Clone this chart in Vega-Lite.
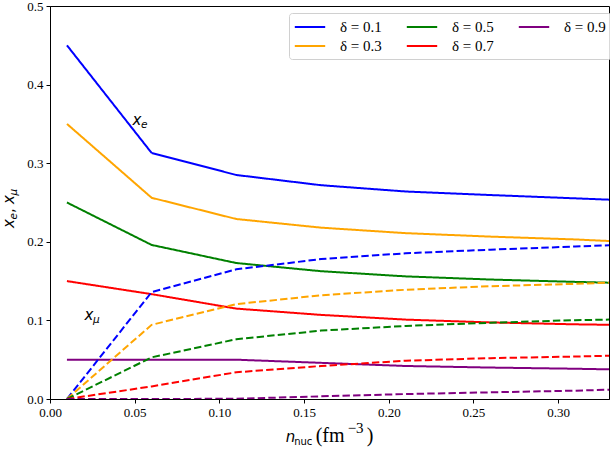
{
  "$schema": "https://vega.github.io/schema/vega-lite/v6.json",
  "width": 559,
  "height": 393,
  "autosize": {"type": "none"},
  "padding": {"left": 50, "top": 6, "right": 1, "bottom": 52},
  "background": "white",
  "config": {
    "view": {"stroke": "black", "strokeWidth": 1},
    "axis": {
      "grid": false,
      "domainColor": "black",
      "tickColor": "black",
      "tickSize": 4,
      "labelFont": "Liberation Serif, Times New Roman, serif",
      "labelFontSize": 13,
      "labelColor": "black",
      "labelPadding": 3,
      "labelFlush": false
    },
    "legend": {
      "orient": "none",
      "legendX": 239,
      "legendY": 7,
      "columns": 3,
      "symbolType": "M-1.9,0H1.9",
      "symbolSize": 256,
      "symbolOffset": 7,
      "symbolStrokeWidth": 2,
      "labelFont": "Liberation Serif, Times New Roman, serif",
      "labelFontSize": 15,
      "labelColor": "black",
      "labelOffset": 21,
      "fillColor": "rgba(255,255,255,0.85)",
      "strokeColor": "#d0d0d0",
      "cornerRadius": 3,
      "padding": 5,
      "rowPadding": 2,
      "columnPadding": 20
    }
  },
  "datasets": {
    "fractions": [
      {"n": 0.01, "x": 0.450, "delta": 0.1, "kind": "x_e"},
      {"n": 0.06, "x": 0.313, "delta": 0.1, "kind": "x_e"},
      {"n": 0.11, "x": 0.285, "delta": 0.1, "kind": "x_e"},
      {"n": 0.16, "x": 0.272, "delta": 0.1, "kind": "x_e"},
      {"n": 0.21, "x": 0.264, "delta": 0.1, "kind": "x_e"},
      {"n": 0.26, "x": 0.2595, "delta": 0.1, "kind": "x_e"},
      {"n": 0.31, "x": 0.2553, "delta": 0.1, "kind": "x_e"},
      {"n": 0.33, "x": 0.2536, "delta": 0.1, "kind": "x_e"},

      {"n": 0.01, "x": 0.350, "delta": 0.3, "kind": "x_e"},
      {"n": 0.06, "x": 0.256, "delta": 0.3, "kind": "x_e"},
      {"n": 0.11, "x": 0.229, "delta": 0.3, "kind": "x_e"},
      {"n": 0.16, "x": 0.218, "delta": 0.3, "kind": "x_e"},
      {"n": 0.21, "x": 0.211, "delta": 0.3, "kind": "x_e"},
      {"n": 0.26, "x": 0.2066, "delta": 0.3, "kind": "x_e"},
      {"n": 0.31, "x": 0.203, "delta": 0.3, "kind": "x_e"},
      {"n": 0.33, "x": 0.201, "delta": 0.3, "kind": "x_e"},

      {"n": 0.01, "x": 0.250, "delta": 0.5, "kind": "x_e"},
      {"n": 0.06, "x": 0.196, "delta": 0.5, "kind": "x_e"},
      {"n": 0.11, "x": 0.173, "delta": 0.5, "kind": "x_e"},
      {"n": 0.16, "x": 0.1626, "delta": 0.5, "kind": "x_e"},
      {"n": 0.21, "x": 0.156, "delta": 0.5, "kind": "x_e"},
      {"n": 0.26, "x": 0.152, "delta": 0.5, "kind": "x_e"},
      {"n": 0.31, "x": 0.149, "delta": 0.5, "kind": "x_e"},
      {"n": 0.33, "x": 0.148, "delta": 0.5, "kind": "x_e"},

      {"n": 0.01, "x": 0.150, "delta": 0.7, "kind": "x_e"},
      {"n": 0.06, "x": 0.1334, "delta": 0.7, "kind": "x_e"},
      {"n": 0.11, "x": 0.115, "delta": 0.7, "kind": "x_e"},
      {"n": 0.16, "x": 0.107, "delta": 0.7, "kind": "x_e"},
      {"n": 0.21, "x": 0.101, "delta": 0.7, "kind": "x_e"},
      {"n": 0.26, "x": 0.0974, "delta": 0.7, "kind": "x_e"},
      {"n": 0.31, "x": 0.095, "delta": 0.7, "kind": "x_e"},
      {"n": 0.33, "x": 0.0944, "delta": 0.7, "kind": "x_e"},

      {"n": 0.01, "x": 0.050, "delta": 0.9, "kind": "x_e"},
      {"n": 0.06, "x": 0.050, "delta": 0.9, "kind": "x_e"},
      {"n": 0.11, "x": 0.050, "delta": 0.9, "kind": "x_e"},
      {"n": 0.16, "x": 0.046, "delta": 0.9, "kind": "x_e"},
      {"n": 0.21, "x": 0.042, "delta": 0.9, "kind": "x_e"},
      {"n": 0.26, "x": 0.040, "delta": 0.9, "kind": "x_e"},
      {"n": 0.31, "x": 0.0385, "delta": 0.9, "kind": "x_e"},
      {"n": 0.33, "x": 0.0377, "delta": 0.9, "kind": "x_e"},

      {"n": 0.01, "x": 0.0, "delta": 0.1, "kind": "x_mu"},
      {"n": 0.06, "x": 0.136, "delta": 0.1, "kind": "x_mu"},
      {"n": 0.11, "x": 0.165, "delta": 0.1, "kind": "x_mu"},
      {"n": 0.16, "x": 0.178, "delta": 0.1, "kind": "x_mu"},
      {"n": 0.21, "x": 0.1854, "delta": 0.1, "kind": "x_mu"},
      {"n": 0.26, "x": 0.190, "delta": 0.1, "kind": "x_mu"},
      {"n": 0.31, "x": 0.194, "delta": 0.1, "kind": "x_mu"},
      {"n": 0.33, "x": 0.1956, "delta": 0.1, "kind": "x_mu"},

      {"n": 0.01, "x": 0.0, "delta": 0.3, "kind": "x_mu"},
      {"n": 0.06, "x": 0.0944, "delta": 0.3, "kind": "x_mu"},
      {"n": 0.11, "x": 0.1207, "delta": 0.3, "kind": "x_mu"},
      {"n": 0.16, "x": 0.132, "delta": 0.3, "kind": "x_mu"},
      {"n": 0.21, "x": 0.139, "delta": 0.3, "kind": "x_mu"},
      {"n": 0.26, "x": 0.1435, "delta": 0.3, "kind": "x_mu"},
      {"n": 0.31, "x": 0.1465, "delta": 0.3, "kind": "x_mu"},
      {"n": 0.33, "x": 0.148, "delta": 0.3, "kind": "x_mu"},

      {"n": 0.01, "x": 0.0, "delta": 0.5, "kind": "x_mu"},
      {"n": 0.06, "x": 0.053, "delta": 0.5, "kind": "x_mu"},
      {"n": 0.11, "x": 0.076, "delta": 0.5, "kind": "x_mu"},
      {"n": 0.16, "x": 0.087, "delta": 0.5, "kind": "x_mu"},
      {"n": 0.21, "x": 0.093, "delta": 0.5, "kind": "x_mu"},
      {"n": 0.26, "x": 0.097, "delta": 0.5, "kind": "x_mu"},
      {"n": 0.31, "x": 0.1003, "delta": 0.5, "kind": "x_mu"},
      {"n": 0.33, "x": 0.101, "delta": 0.5, "kind": "x_mu"},

      {"n": 0.01, "x": 0.0, "delta": 0.7, "kind": "x_mu"},
      {"n": 0.06, "x": 0.016, "delta": 0.7, "kind": "x_mu"},
      {"n": 0.11, "x": 0.034, "delta": 0.7, "kind": "x_mu"},
      {"n": 0.16, "x": 0.042, "delta": 0.7, "kind": "x_mu"},
      {"n": 0.21, "x": 0.0487, "delta": 0.7, "kind": "x_mu"},
      {"n": 0.26, "x": 0.052, "delta": 0.7, "kind": "x_mu"},
      {"n": 0.31, "x": 0.054, "delta": 0.7, "kind": "x_mu"},
      {"n": 0.33, "x": 0.055, "delta": 0.7, "kind": "x_mu"},

      {"n": 0.01, "x": 0.0, "delta": 0.9, "kind": "x_mu"},
      {"n": 0.06, "x": 0.0, "delta": 0.9, "kind": "x_mu"},
      {"n": 0.11, "x": 0.0003, "delta": 0.9, "kind": "x_mu"},
      {"n": 0.16, "x": 0.0034, "delta": 0.9, "kind": "x_mu"},
      {"n": 0.21, "x": 0.0063, "delta": 0.9, "kind": "x_mu"},
      {"n": 0.26, "x": 0.0085, "delta": 0.9, "kind": "x_mu"},
      {"n": 0.31, "x": 0.0106, "delta": 0.9, "kind": "x_mu"},
      {"n": 0.33, "x": 0.0118, "delta": 0.9, "kind": "x_mu"}
    ],
    "curveLabels": [
      {"t": "x", "sub": "e", "n": 0.0487, "v": 0.3486},
      {"t": "x", "sub": "μ", "n": 0.0204, "v": 0.1005}
    ],
    "titleParts": [
      {"part": "xn", "t": "n", "n": 0.1391, "v": 0},
      {"part": "xnuc", "t": "nuc", "n": 0.1391, "v": 0},
      {"part": "xfm", "t": "(fm", "n": 0.1391, "v": 0},
      {"part": "xexp", "t": "−3", "n": 0.1391, "v": 0},
      {"part": "xclose", "t": ")", "n": 0.1391, "v": 0},
      {"part": "yx1", "t": "x", "n": 0, "v": 0.2176},
      {"part": "ye", "t": "e", "n": 0, "v": 0.2176},
      {"part": "ycomma", "t": ",", "n": 0, "v": 0.2176},
      {"part": "yx2", "t": "x", "n": 0, "v": 0.2176},
      {"part": "ymu", "t": "μ", "n": 0, "v": 0.2176}
    ]
  },
  "data": {"name": "fractions"},
  "encoding": {
    "x": {
      "field": "n",
      "type": "quantitative",
      "scale": {"domain": [0, 0.33], "nice": false, "zero": false},
      "axis": {"values": [0, 0.05, 0.1, 0.15, 0.2, 0.25, 0.3], "format": ".2f", "title": null}
    },
    "y": {
      "field": "x",
      "type": "quantitative",
      "scale": {"domain": [0, 0.5], "nice": false},
      "axis": {"values": [0, 0.1, 0.2, 0.3, 0.4, 0.5], "format": ".1f", "title": null}
    }
  },
  "layer": [
    {
      "mark": {"type": "line", "strokeWidth": 2, "clip": true},
      "encoding": {
        "color": {
          "field": "delta",
          "type": "nominal",
          "scale": {
            "domain": [0.1, 0.3, 0.5, 0.7, 0.9],
            "range": ["#0000ff", "#ffa500", "#008000", "#ff0000", "#800080"]
          },
          "legend": {"title": null, "labelExpr": "'δ = ' + datum.label"}
        },
        "strokeDash": {
          "field": "kind",
          "type": "nominal",
          "scale": {"domain": ["x_e", "x_mu"], "range": [[1, 0], [7.4, 3.2]]},
          "legend": null
        },
        "order": {"field": "n", "type": "quantitative"}
      }
    },
    {
      "data": {"name": "curveLabels"},
      "mark": {"type": "text", "font": "DejaVu Sans", "fontStyle": "italic", "fontSize": 15, "align": "left", "baseline": "alphabetic", "color": "black"},
      "encoding": {"x": {"field": "n", "type": "quantitative"}, "y": {"field": "v", "type": "quantitative"}, "text": {"field": "t"}}
    },
    {
      "data": {"name": "curveLabels"},
      "mark": {"type": "text", "font": "DejaVu Sans", "fontStyle": "italic", "fontSize": 10.5, "align": "left", "baseline": "alphabetic", "dx": 8.5, "dy": 3, "color": "black"},
      "encoding": {"x": {"field": "n", "type": "quantitative"}, "y": {"field": "v", "type": "quantitative"}, "text": {"field": "sub"}}
    },
    {
      "data": {"name": "titleParts"},
      "transform": [{"filter": "datum.part === 'xn'"}],
      "mark": {"type": "text", "font": "DejaVu Sans", "fontStyle": "italic", "fontSize": 15, "align": "left", "baseline": "alphabetic", "dx": 0, "dy": 43, "color": "black"},
      "encoding": {"x": {"field": "n", "type": "quantitative"}, "y": {"field": "v", "type": "quantitative"}, "text": {"field": "t"}}
    },
    {
      "data": {"name": "titleParts"},
      "transform": [{"filter": "datum.part === 'xnuc'"}],
      "mark": {"type": "text", "font": "DejaVu Sans", "fontSize": 10, "align": "left", "baseline": "alphabetic", "dx": 8.5, "dy": 46, "color": "black"},
      "encoding": {"x": {"field": "n", "type": "quantitative"}, "y": {"field": "v", "type": "quantitative"}, "text": {"field": "t"}}
    },
    {
      "data": {"name": "titleParts"},
      "transform": [{"filter": "datum.part === 'xfm'"}],
      "mark": {"type": "text", "font": "Liberation Serif, Times New Roman, serif", "fontSize": 20, "align": "left", "baseline": "alphabetic", "dx": 30, "dy": 43, "color": "black"},
      "encoding": {"x": {"field": "n", "type": "quantitative"}, "y": {"field": "v", "type": "quantitative"}, "text": {"field": "t"}}
    },
    {
      "data": {"name": "titleParts"},
      "transform": [{"filter": "datum.part === 'xexp'"}],
      "mark": {"type": "text", "font": "Liberation Serif, Times New Roman, serif", "fontSize": 15, "align": "left", "baseline": "alphabetic", "dx": 62, "dy": 34, "color": "black"},
      "encoding": {"x": {"field": "n", "type": "quantitative"}, "y": {"field": "v", "type": "quantitative"}, "text": {"field": "t"}}
    },
    {
      "data": {"name": "titleParts"},
      "transform": [{"filter": "datum.part === 'xclose'"}],
      "mark": {"type": "text", "font": "Liberation Serif, Times New Roman, serif", "fontSize": 20, "align": "left", "baseline": "alphabetic", "dx": 81, "dy": 43, "color": "black"},
      "encoding": {"x": {"field": "n", "type": "quantitative"}, "y": {"field": "v", "type": "quantitative"}, "text": {"field": "t"}}
    },
    {
      "data": {"name": "titleParts"},
      "transform": [{"filter": "datum.part === 'yx1'"}],
      "mark": {"type": "text", "font": "DejaVu Sans", "fontStyle": "italic", "fontSize": 15, "angle": 270, "align": "left", "baseline": "alphabetic", "dx": 0, "dy": -36.5, "color": "black"},
      "encoding": {"x": {"field": "n", "type": "quantitative"}, "y": {"field": "v", "type": "quantitative"}, "text": {"field": "t"}}
    },
    {
      "data": {"name": "titleParts"},
      "transform": [{"filter": "datum.part === 'ye'"}],
      "mark": {"type": "text", "font": "DejaVu Sans", "fontStyle": "italic", "fontSize": 10.5, "angle": 270, "align": "left", "baseline": "alphabetic", "dx": 8.5, "dy": -33.5, "color": "black"},
      "encoding": {"x": {"field": "n", "type": "quantitative"}, "y": {"field": "v", "type": "quantitative"}, "text": {"field": "t"}}
    },
    {
      "data": {"name": "titleParts"},
      "transform": [{"filter": "datum.part === 'ycomma'"}],
      "mark": {"type": "text", "font": "DejaVu Sans", "fontSize": 15, "angle": 270, "align": "left", "baseline": "alphabetic", "dx": 15, "dy": -36.5, "color": "black"},
      "encoding": {"x": {"field": "n", "type": "quantitative"}, "y": {"field": "v", "type": "quantitative"}, "text": {"field": "t"}}
    },
    {
      "data": {"name": "titleParts"},
      "transform": [{"filter": "datum.part === 'yx2'"}],
      "mark": {"type": "text", "font": "DejaVu Sans", "fontStyle": "italic", "fontSize": 15, "angle": 270, "align": "left", "baseline": "alphabetic", "dx": 24, "dy": -36.5, "color": "black"},
      "encoding": {"x": {"field": "n", "type": "quantitative"}, "y": {"field": "v", "type": "quantitative"}, "text": {"field": "t"}}
    },
    {
      "data": {"name": "titleParts"},
      "transform": [{"filter": "datum.part === 'ymu'"}],
      "mark": {"type": "text", "font": "DejaVu Sans", "fontStyle": "italic", "fontSize": 10.5, "angle": 270, "align": "left", "baseline": "alphabetic", "dx": 32.5, "dy": -33.5, "color": "black"},
      "encoding": {"x": {"field": "n", "type": "quantitative"}, "y": {"field": "v", "type": "quantitative"}, "text": {"field": "t"}}
    }
  ]
}
